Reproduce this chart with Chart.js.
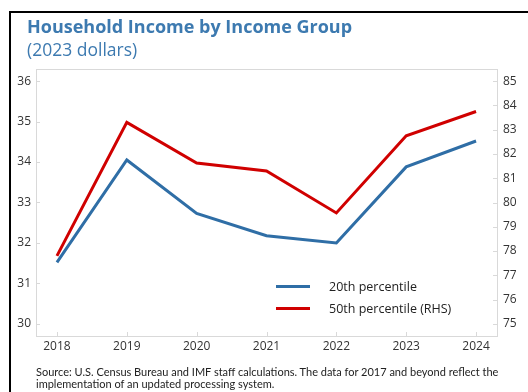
<!DOCTYPE html>
<html lang="en">
<head>
    <meta charset="UTF-8">
    <title>Household Income by Income Group</title>
    <script src="https://cdn.jsdelivr.net/npm/chart.js"></script>
    <style>
        body { margin: 0; background: #fff; font-family: "Open Sans", sans-serif; }
        #wrap { position: relative; width: 528px; height: 392px; overflow: hidden; }
        #frame { position: absolute; left: 9px; top: 11px; width: 600px; height: 500px;
                 border-left: 2px solid #000; border-top: 2px solid #000; }
        #myChart { position: absolute; left: 0; top: 0; }
        .title { position: absolute; left: 27px; color: #3d7ab0; white-space: nowrap; }
        #t1 { top: 14px; font-size: 18px; font-weight: bold; }
        #t2 { top: 37px; font-size: 17.5px; }
        #legend { position: absolute; left: 276px; top: 275px; font-size: 12.5px; color: #222; }
        .item { height: 22px; display: flex; align-items: center; }
        .swatch { width: 34px; height: 3px; margin-right: 19px; }
        #note { position: absolute; left: 36px; top: 366px; font-family: Lato, sans-serif; font-size: 11px;
                line-height: 12px; color: #222; white-space: nowrap; }
    </style>
</head>
<body>
<div id="wrap">
    <div id="frame"></div>
    <canvas id="myChart" width="528" height="392"></canvas>
    <div class="title" id="t1">Household Income by Income Group</div>
    <div class="title" id="t2">(2023 dollars)</div>
    <div id="legend"></div>
    <div id="note">Source: U.S. Census Bureau and IMF staff calculations. The data for 2017 and beyond reflect the<br>implementation of an updated processing system.</div>
</div>

<script>
    const years = [2018, 2019, 2020, 2021, 2022, 2023, 2024];
    const p20 = [31.52, 34.05, 32.73, 32.18, 32.0, 33.88, 34.52];   // left axis
    const p50 = [77.8, 83.3, 81.63, 81.3, 79.57, 82.75, 83.75];     // right axis
    const leftTicks = [30, 31, 32, 33, 34, 35, 36];
    const rightTicks = [75, 76, 77, 78, 79, 80, 81, 82, 83, 84, 85];

    const tickFont = { family: 'Open Sans', size: 12 };
    const tickColor = '#333';

    // box around the plot area plus short inward tick marks
    const frameBox = {
        id: 'frameBox',
        beforeDatasetsDraw(chart) {
            const { ctx, chartArea: a, scales } = chart;
            ctx.save();
            ctx.strokeStyle = '#d9d9d9';
            ctx.lineWidth = 1;
            ctx.strokeRect(a.left + 0.5, a.top + 0.5, a.right - a.left, a.bottom - a.top);
            ctx.beginPath();
            scales.x.ticks.forEach(t => {
                const px = Math.round(scales.x.getPixelForValue(t.value)) + 0.5;
                ctx.moveTo(px, a.bottom); ctx.lineTo(px, a.bottom - 4);
            });
            scales.y.ticks.forEach(t => {
                const py = Math.round(scales.y.getPixelForValue(t.value)) + 0.5;
                ctx.moveTo(a.left, py); ctx.lineTo(a.left + 4, py);
            });
            scales.y1.ticks.forEach(t => {
                const py = Math.round(scales.y1.getPixelForValue(t.value)) + 0.5;
                ctx.moveTo(a.right, py); ctx.lineTo(a.right - 4, py);
            });
            ctx.stroke();
            ctx.restore();
        }
    };

    const ctx = document.getElementById('myChart').getContext('2d');
    const myChart = new Chart(ctx, {
        type: 'line',
        data: {
            datasets: [
                {
                    label: '20th percentile',
                    data: years.map((y, i) => ({ x: y, y: p20[i] })),
                    borderColor: '#2f6ea6',
                    borderWidth: 3,
                    pointRadius: 0,
                    yAxisID: 'y'
                },
                {
                    label: '50th percentile (RHS)',
                    data: years.map((y, i) => ({ x: y, y: p50[i] })),
                    borderColor: '#d00000',
                    borderWidth: 3,
                    pointRadius: 0,
                    yAxisID: 'y1'
                }
            ]
        },
        options: {
            responsive: false,
            animation: false,
            layout: { padding: { top: 69, left: 0, right: 0, bottom: 0 } },
            plugins: { legend: { display: false }, tooltip: { enabled: false } },
            scales: {
                x: {
                    type: 'linear',
                    min: 2017.7, max: 2024.3,
                    afterBuildTicks: s => { s.ticks = years.map(v => ({ value: v })); },
                    afterFit: s => { s.height = 56; },
                    grid: { display: false, drawTicks: false },
                    border: { display: false },
                    ticks: { font: tickFont, color: tickColor, padding: 3, callback: v => String(v) }
                },
                y: {
                    position: 'left',
                    min: 29.7, max: 36.3,
                    afterBuildTicks: s => { s.ticks = leftTicks.map(v => ({ value: v })); },
                    afterFit: s => { s.width = 36; },
                    grid: { display: false, drawTicks: false },
                    border: { display: false },
                    ticks: { font: tickFont, color: tickColor, padding: 5 }
                },
                y1: {
                    position: 'right',
                    min: 74.5, max: 85.5,
                    afterBuildTicks: s => { s.ticks = rightTicks.map(v => ({ value: v })); },
                    afterFit: s => { s.width = 31; },
                    grid: { display: false, drawTicks: false },
                    border: { display: false },
                    ticks: { font: tickFont, color: tickColor, padding: 6 }
                }
            }
        },
        plugins: [frameBox]
    });

    // legend built from the datasets
    const legend = document.getElementById('legend');
    myChart.data.datasets.forEach(ds => {
        const row = document.createElement('div');
        row.className = 'item';
        row.innerHTML = '<span class="swatch" style="background:' + ds.borderColor + '"></span>' + ds.label;
        legend.appendChild(row);
    });
</script>
</body>
</html>
